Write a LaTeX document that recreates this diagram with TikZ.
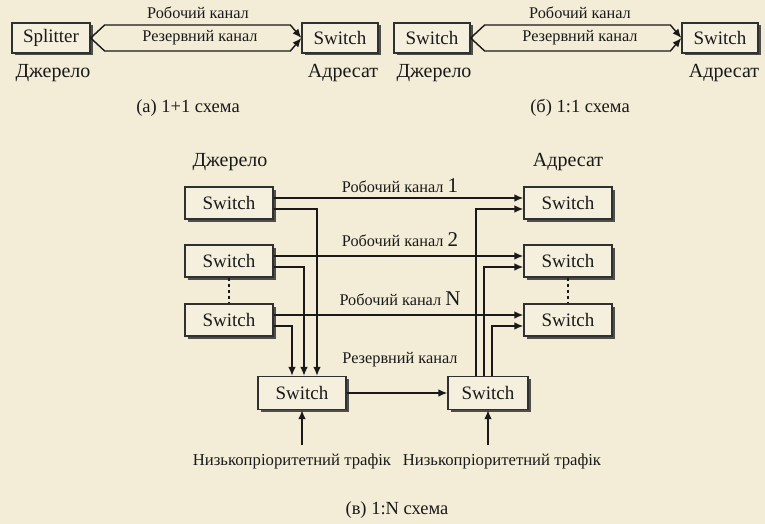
\documentclass[tikz,border=0pt]{standalone}
\usepackage{fontspec}
\setmainfont{Liberation Serif}
\usepackage{tikz}
\usetikzlibrary{arrows.meta}
\usetikzlibrary{calc}
\usetikzlibrary{shadows}

\definecolor{paper}{RGB}{243,236,215}
\definecolor{boxfill}{RGB}{245,239,221}
\definecolor{ink}{RGB}{25,25,25}

\tikzset{
  box/.style={draw=ink!90, line width=1.3pt, fill=boxfill, minimum width=76pt, minimum height=30pt,
              inner sep=0pt, text=ink, font=\fontsize{19}{21}\selectfont,
              drop shadow={shadow xshift=2.5pt, shadow yshift=-2.5pt, fill=black!80, opacity=0.85}},
  chan/.style={text=ink, font=\fontsize{16.3}{18}\selectfont},
  schemecap/.style={text=ink, font=\fontsize{18.5}{20}\selectfont},
  side/.style={text=ink, font=\fontsize{20}{22}\selectfont},
  link/.style={line width=1.4pt, draw=ink},
  >={Latex[length=9pt,width=7.5pt]}
}
\newcommand{\chnum}{\fontsize{21}{21}\selectfont}

\begin{document}
\begin{tikzpicture}[x=1pt, y=-1pt]

% background
\fill[paper] (0,0) rectangle (765,524);
\useasboundingbox (0,0) rectangle (765,524);

% (a) 1+1
\node[box, minimum width=78pt] (split) at (51,38) {Splitter};
\node[box] (swA) at (340,38) {Switch};
\node[chan] (workA) at (198,13) {Робочий канал};
\node[chan] (backA) at (200,38) {Резервний канал};
\node[side] (srcA) at (53,73) {Джерело};
\node[side] (dstA) at (343,73) {Адресат};
\node[schemecap] (capA) at (188,108) {(а) 1+1 схема};

\draw[link,->] (split.east) -- ++(14,-13) -- ($(swA.west)+(-11,-13)$) -- (swA.west);
\draw[link,->] (split.east) -- ++(14,13) -- ($(swA.west)+(-11,13)$) -- (swA.west);

% (b) 1:1
\node[box] (swB1) at (432,38) {Switch};
\node[box] (swB2) at (720,38) {Switch};
\node[chan] (workB) at (580,13) {Робочий канал};
\node[chan] (backB) at (580,38) {Резервний канал};
\node[side] (srcB) at (434,73) {Джерело};
\node[side] (dstB) at (724,73) {Адресат};
\node[schemecap] (capB) at (580,108) {(б) 1:1 схема};

\draw[link,->] (swB1.east) -- ++(14,-13) -- ($(swB2.west)+(-11,-13)$) -- (swB2.west);
\draw[link,->] (swB1.east) -- ++(14,13) -- ($(swB2.west)+(-11,13)$) -- (swB2.west);

% (c) 1:N
\node[side] (srcC) at (230,162) {Джерело};
\node[side] (dstC) at (568,162) {Адресат};

\foreach \i/\y in {1/203, 2/261, 3/320} {
  \node[box, minimum width=88pt, minimum height=32pt] (L\i) at (229,\y) {Switch};
  \node[box, minimum width=88pt, minimum height=32pt] (R\i) at (568,\y) {Switch};
}
\node[box, minimum width=88pt, minimum height=33pt] (Bl) at (302,393) {Switch};
\node[box, minimum width=80pt, minimum height=33pt] (Br) at (488,393) {Switch};

\draw[link, dashed] (L2.south) -- (L3.north);
\draw[link, dashed] (R2.south) -- (R3.north);

\node[chan] (work1) at (400,186) {Робочий канал {\chnum 1}};
\node[chan] (work2) at (400,240) {Робочий канал {\chnum 2}};
\node[chan] (workN) at (400,299) {Робочий канал {\chnum N}};
\node[chan] (backC) at (400,360) {Резервний канал};

% working channels
\foreach \i in {1,2,3}
  \draw[link,->] ($(L\i.east)+(0,-5)$) -- ($(R\i.west)+(0,-5)$);

% into the protection switch
\draw[link,->] ($(L1.east)+(0,6)$) -| ($(Bl.north)+(15,0)$);
\draw[link,->] ($(L2.east)+(0,6)$) -| ($(Bl.north)+(2,0)$);
\draw[link,->] ($(L3.east)+(0,6)$) -| ($(Bl.north)+(-10,0)$);

% protection channel
\draw[link,->] (Bl.east) -- (Br.west);

% out of the protection switch
\draw[link,->] ($(Br.north)+(-12,0)$) |- ($(R1.west)+(0,6)$);
\draw[link,->] ($(Br.north)+(-4,0)$) |- ($(R2.west)+(0,6)$);
\draw[link,->] ($(Br.north)+(4,0)$) |- ($(R3.west)+(0,6)$);

% low priority traffic
\node[chan, font=\fontsize{16.7}{18}\selectfont] (lowL) at (292,461) {Низькопріоритетний трафік};
\node[chan, font=\fontsize{16.7}{18}\selectfont] (lowR) at (502,461) {Низькопріоритетний трафік};
\coordinate (inL) at (302,445);
\coordinate (inR) at (488,445);
\draw[link,->] (inL) -- (Bl.south);
\draw[link,->] (inR) -- (Br.south);

\node[schemecap] (capC) at (397,510) {(в) 1:N схема};

\end{tikzpicture}
\end{document}
